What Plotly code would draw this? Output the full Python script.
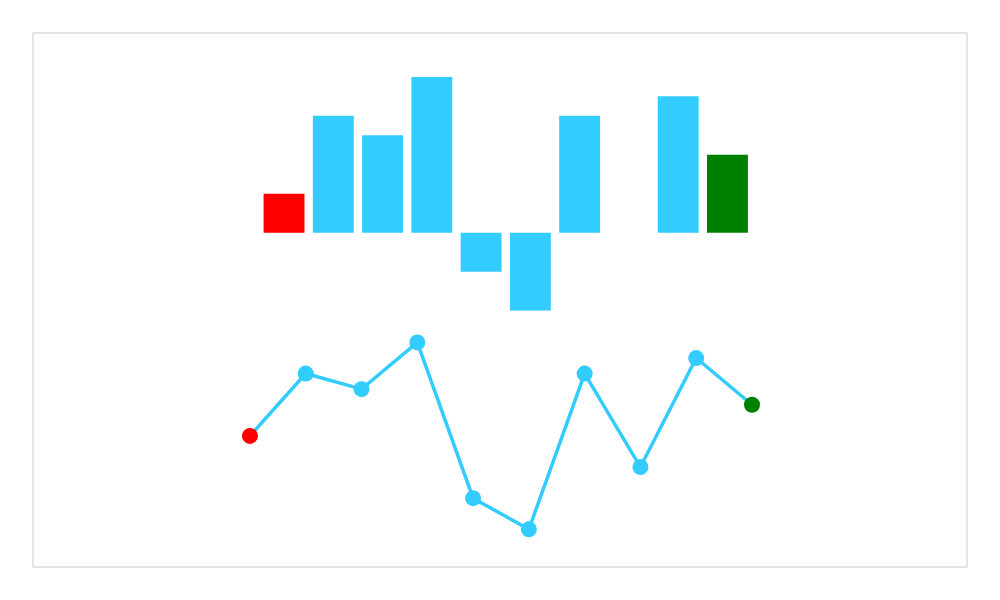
'''Sparkline pair: bar sparkline above a line sparkline'''

import plotly.graph_objects as go

# data
points = list(range(10))
values = [2, 6, 5, 8, -2, -4, 6, 0, 7, 4]

BLUE = '#33ccff'
FIRST = '#ff0000'
LAST = '#008000'

# first point red, last point green, the rest blue
colors = [BLUE] * len(values)
colors[0] = FIRST
colors[-1] = LAST

bars = go.Bar(
    x=points, y=values,
    marker=dict(color=colors, line=dict(width=0)),
    xaxis='x', yaxis='y',
    hoverinfo='y',
)

line = go.Scatter(
    x=points, y=values,
    mode='lines+markers',
    line=dict(color=BLUE, width=3.5),
    marker=dict(color=colors, size=16),
    cliponaxis=False,
    xaxis='x2', yaxis='y2',
    hoverinfo='y',
)

hidden = dict(showgrid=False, zeroline=False, showticklabels=False,
              showline=False, ticks='', fixedrange=True)

# the page puts the figure 8px in from the corner, so the size is trimmed
layout = go.Layout(
    width=984, height=584,
    margin=dict(l=25, r=25, t=25, b=25),
    paper_bgcolor='white', plot_bgcolor='white',
    showlegend=False,
    bargap=0.17,
    xaxis=dict(domain=[0.2424, 0.7699], range=[-0.5, 9.5], **hidden),
    yaxis=dict(domain=[0.48, 0.9182], range=[-4, 8], **hidden),
    xaxis2=dict(domain=[0.2323, 0.7698], range=[0, 9], anchor='y2', **hidden),
    yaxis2=dict(domain=[0.0705, 0.4205], range=[-4, 8], anchor='x2', **hidden),
    shapes=[dict(type='rect', xref='paper', yref='paper',
                 x0=0, x1=1, y0=0, y1=1,
                 line=dict(color='#dddddd', width=1.5))],
)

fig = go.Figure(data=[bars, line], layout=layout)
fig.write_html('out.html')
